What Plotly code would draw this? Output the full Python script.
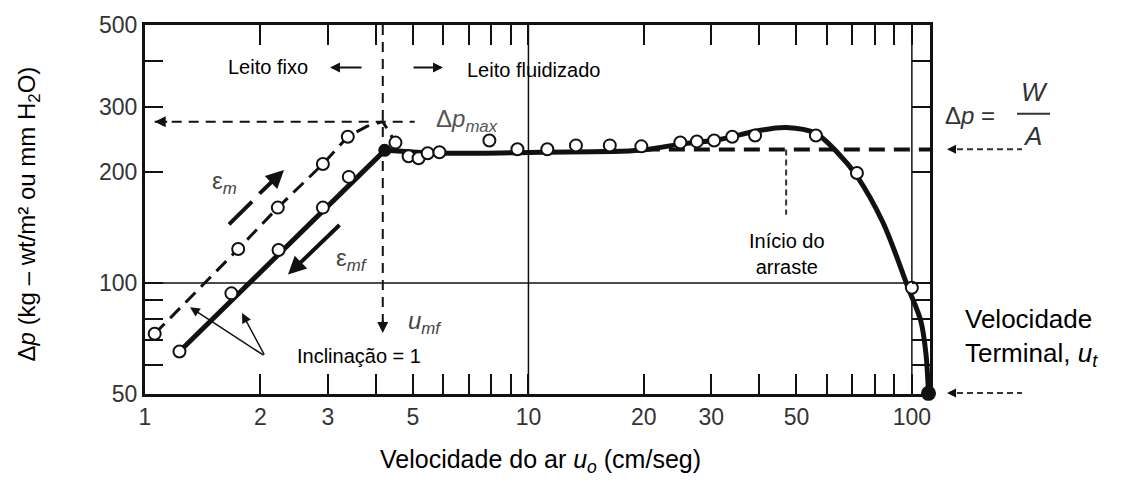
import math
import plotly.graph_objects as go

# ---------------- data ----------------
# fixed bed, increasing velocity (epsilon_m) - dashed branch
u_em = [1.06, 1.75, 2.22, 2.91, 3.38]
dp_em = [72.8, 123.6, 160.0, 210.0, 249.0]
u_em_path = [1.06, 1.75, 2.22, 2.91, 3.38, 3.80, 4.17, 4.50]
dp_em_path = [72.8, 123.6, 160.0, 210.0, 249.0, 266.0, 273.5, 240.0]

# fixed bed, decreasing velocity (epsilon_mf) - solid branch
u_emf = [1.23, 1.68, 2.23, 2.91, 3.40]
dp_emf = [65.2, 93.7, 122.8, 160.0, 193.8]
u_fixed_line = [1.23, 4.22]
dp_fixed_line = [65.2, 228.7]

# fluidized bed curve
u_fluid_line = [4.22, 5.86, 10.7, 19.5, 24.7, 31.4, 40.0, 47.0, 56.2, 64.2,
                71.5, 84.0, 97.8, 105.5, 108.8, 110.5]
dp_fluid_line = [228.7, 224.6, 226.0, 228.7, 237.4, 244.8, 258.8, 263.6, 254.0,
                 224.6, 196.2, 146.0, 97.0, 78.9, 64.4, 50.2]

# fluidized bed measured points
u_fluid = [4.50, 4.87, 5.17, 5.46, 5.86, 7.91, 9.36, 11.2, 13.3, 16.3, 19.7,
           24.9, 27.5, 30.5, 34.0, 39.0, 56.2, 71.9, 100.0]
dp_fluid = [240.0, 220.5, 217.8, 224.6, 226.0, 243.3, 230.2, 230.2, 235.9, 235.9,
            234.5, 240.3, 241.8, 243.3, 249.0, 250.9, 250.9, 198.6, 97.0]

u_mf_point = [4.22]
dp_mf_point = [228.7]
u_terminal = [110.5]
dp_terminal = [50.2]

u_mf = 4.17
dp_max = 273.5
dp_wa = 230.0
u_drag = 47.0

x_ticks = [1, 2, 3, 4, 5, 6, 7, 8, 9, 10, 20, 30, 40, 50, 60, 70, 80, 90, 100]
x_tick_text = ["1", "2", "3", "", "5", "", "", "", "", "10", "20", "30", "", "50", "", "", "", "", "100"]
y_ticks = [50, 60, 70, 80, 90, 100, 200, 300, 400, 500]
y_tick_text = ["50", "", "", "", "", "100", "200", "300", "", "500"]

# ---------------- layout geometry ----------------
W, H = 1128, 489
L, R, T, B = 145, 930, 20, 394
FONT = "Liberation Sans, Arial, Helvetica, sans-serif"
INK = "#111111"


def px(x):
    return (x - L) / (R - L)


def py(y):
    return (B - y) / (B - T)


lg = math.log10

fig = go.Figure()

# reference grid lines (10, 100 on x ; 100 on y)
for xv in [10, 100]:
    fig.add_trace(go.Scatter(x=[xv, xv], y=[50, 500], mode="lines",
                             line=dict(color=INK, width=1.5), hoverinfo="skip", showlegend=False))
fig.add_trace(go.Scatter(x=[1, 120], y=[100, 100], mode="lines",
                         line=dict(color=INK, width=1.5), hoverinfo="skip", showlegend=False))

# dp_max horizontal dashed line
fig.add_trace(go.Scatter(x=[1.06, 5.05], y=[dp_max, dp_max], mode="lines",
                         line=dict(color=INK, width=2, dash="10px,7px"), showlegend=False))
# u_mf vertical dashed line
fig.add_trace(go.Scatter(x=[u_mf, u_mf], y=[500, 76], mode="lines",
                         line=dict(color=INK, width=2, dash="10px,7px"), showlegend=False))
# W/A thick dashed line
fig.add_trace(go.Scatter(x=[20, 112], y=[dp_wa, dp_wa], mode="lines",
                         line=dict(color=INK, width=4, dash="16px,9px"), showlegend=False))
# start of entrainment marker
fig.add_trace(go.Scatter(x=[u_drag, u_drag], y=[dp_wa, 153], mode="lines",
                         line=dict(color="#333", width=2, dash="6px,4px"), showlegend=False))

# epsilon_m dashed branch
fig.add_trace(go.Scatter(x=u_em_path, y=dp_em_path, mode="lines",
                         line=dict(color=INK, width=3, dash="14px,8px"), showlegend=False))
# epsilon_mf solid branch
fig.add_trace(go.Scatter(x=u_fixed_line, y=dp_fixed_line, mode="lines",
                         line=dict(color=INK, width=5), showlegend=False))
fig.add_trace(go.Scatter(x=u_fluid_line, y=dp_fluid_line, mode="lines",
                         line=dict(color=INK, width=5, shape="spline", smoothing=0.9),
                         showlegend=False, cliponaxis=False))

marker_open = dict(symbol="circle", size=12, color="white", line=dict(color=INK, width=2))
for xs, ys in [(u_em, dp_em), (u_emf, dp_emf), (u_fluid, dp_fluid)]:
    fig.add_trace(go.Scatter(x=xs, y=ys, mode="markers", marker=marker_open,
                             showlegend=False, cliponaxis=False))
fig.add_trace(go.Scatter(x=u_mf_point, y=dp_mf_point, mode="markers",
                         marker=dict(size=13, color=INK), showlegend=False))
fig.add_trace(go.Scatter(x=u_terminal, y=dp_terminal, mode="markers",
                         marker=dict(size=15, color=INK), showlegend=False, cliponaxis=False))

ann = []


def text(x, y, s, size=20, color="black", xanchor="center", bg=None, align="center"):
    d = dict(x=px(x), y=py(y), xref="paper", yref="paper", text=s, showarrow=False,
             xanchor=xanchor, yanchor="middle", align=align,
             font=dict(family=FONT, size=size, color=color))
    if bg:
        d["bgcolor"] = bg
    ann.append(d)


def arrow(hx, hy, tx, ty, width=2, head=2, size=1.0, color=INK):
    ann.append(dict(x=px(hx), y=py(hy), xref="paper", yref="paper", text="",
                    showarrow=True, ax=tx - hx, ay=ty - hy, arrowhead=head,
                    arrowsize=size, arrowwidth=width, arrowcolor=color))


def data_arrow(hx, hy, dx, dy, width=2, head=2, size=1.0):
    ann.append(dict(x=lg(hx), y=lg(hy), xref="x", yref="y", text="", showarrow=True,
                    ax=dx, ay=dy, arrowhead=head, arrowsize=size, arrowwidth=width,
                    arrowcolor=INK))


# arrowheads on data lines
data_arrow(1.06, dp_max, 14, 0, width=2, size=1.1)
data_arrow(u_mf, 73.2, 0, -14, width=2, size=1.1)

# texts
text(268, 63, "Leito fixo", 20)
arrow(330, 63, 363, 63, width=2, size=1)
arrow(443, 63, 412, 63, width=2, size=1)
text(465, 66, "Leito fluidizado", 20, xanchor="left")
text(467, 117, "Δ<i>p</i><sub><i>max</i></sub>", 24, color="#555")
text(224, 180, "ε<sub><i>m</i></sub>", 24, color="#444")
text(352, 258, "ε<sub><i>mf</i></sub>", 24, color="#444")
text(425, 322, "<i>u</i><sub><i>mf</i></sub>", 24, color="#444")

# slope pointers
arrow(190, 306, 265, 355, width=1.5, size=1.3)
arrow(242, 312, 265, 355, width=1.5, size=1.3)
ann.append(dict(x=px(292), y=py(355), xref="paper", yref="paper", text="Inclinação = 1",
                showarrow=False, xanchor="left", yanchor="middle", bgcolor="white",
                borderpad=4, font=dict(family=FONT, size=20, color="black")))

ann.append(dict(x=px(787), y=py(252), xref="paper", yref="paper", text="Início do<br>arraste",
                showarrow=False, xanchor="center", yanchor="middle",
                font=dict(family=FONT, size=20, color="black")))

# arrows ε (ε_m drawn as a broken thick arrow)
arrow(284, 167, 258, 192, width=4, size=0.9)
arrow(288, 273, 341, 222, width=4, size=0.9)

# right side: Δp = W/A
text(943, 112, "Δ<i>p</i> =", 24, color="#333", xanchor="left")
text(1034, 88, "<i>W</i>", 26, color="#333")
text(1032, 132, "<i>A</i>", 26, color="#333")

# Velocidade terminal
text(963, 337, "Velocidade<br>Terminal, <i>u<sub>t</sub></i>", 26, xanchor="left", align="left")

# axis titles
text(540, 462, "Velocidade do ar <i>u<sub>o</sub></i> (cm/seg)", 25)
ann.append(dict(x=px(28), y=py(212), xref="paper", yref="paper",
                text="Δ<i>p</i> (kg – wt/m² ou mm H<sub>2</sub>O)", showarrow=False,
                textangle=-90, xanchor="center", yanchor="middle",
                font=dict(family=FONT, size=24, color="black")))

# outside arrowheads
arrow(947, 146, 957, 146, width=1.5, size=1.2)
arrow(947, 393, 957, 393, width=1.5, size=1.2)

shapes = [
    dict(type="line", xref="paper", yref="paper", x0=px(957), x1=px(1022), y0=py(146), y1=py(146),
         line=dict(color="#333", width=2, dash="6px,4px")),
    dict(type="line", xref="paper", yref="paper", x0=px(957), x1=px(1022), y0=py(393), y1=py(393),
         line=dict(color="#333", width=2, dash="6px,4px")),
    dict(type="line", xref="paper", yref="paper", x0=px(1017), x1=px(1050), y0=py(110), y1=py(110),
         line=dict(color="#333", width=2)),
    # first thick dash of the ε_m arrow
    dict(type="line", xref="paper", yref="paper", x0=px(229), x1=px(252), y0=py(222), y1=py(199),
         line=dict(color=INK, width=4)),
]

fig.update_layout(
    width=W, height=H,
    margin=dict(l=L, r=W - R, t=T, b=H - B),
    paper_bgcolor="white", plot_bgcolor="white",
    showlegend=False,
    annotations=ann, shapes=shapes,
    xaxis=dict(type="log", range=[0, lg(111.5)], tickmode="array", tickvals=x_ticks,
               ticktext=x_tick_text, ticks="inside", ticklen=20, tickwidth=2, tickcolor=INK,
               showline=True, linewidth=3, linecolor=INK, mirror="allticks",
               showgrid=False, zeroline=False,
               tickfont=dict(family=FONT, size=23, color="#333")),
    yaxis=dict(type="log", range=[lg(50), lg(500)], tickmode="array", tickvals=y_ticks,
               ticktext=y_tick_text, ticks="inside", ticklen=18, tickwidth=2, tickcolor=INK,
               showline=True, linewidth=3, linecolor=INK, mirror="allticks",
               showgrid=False, zeroline=False,
               tickfont=dict(family=FONT, size=23, color="#333")),
)

fig.write_html("out.html")
